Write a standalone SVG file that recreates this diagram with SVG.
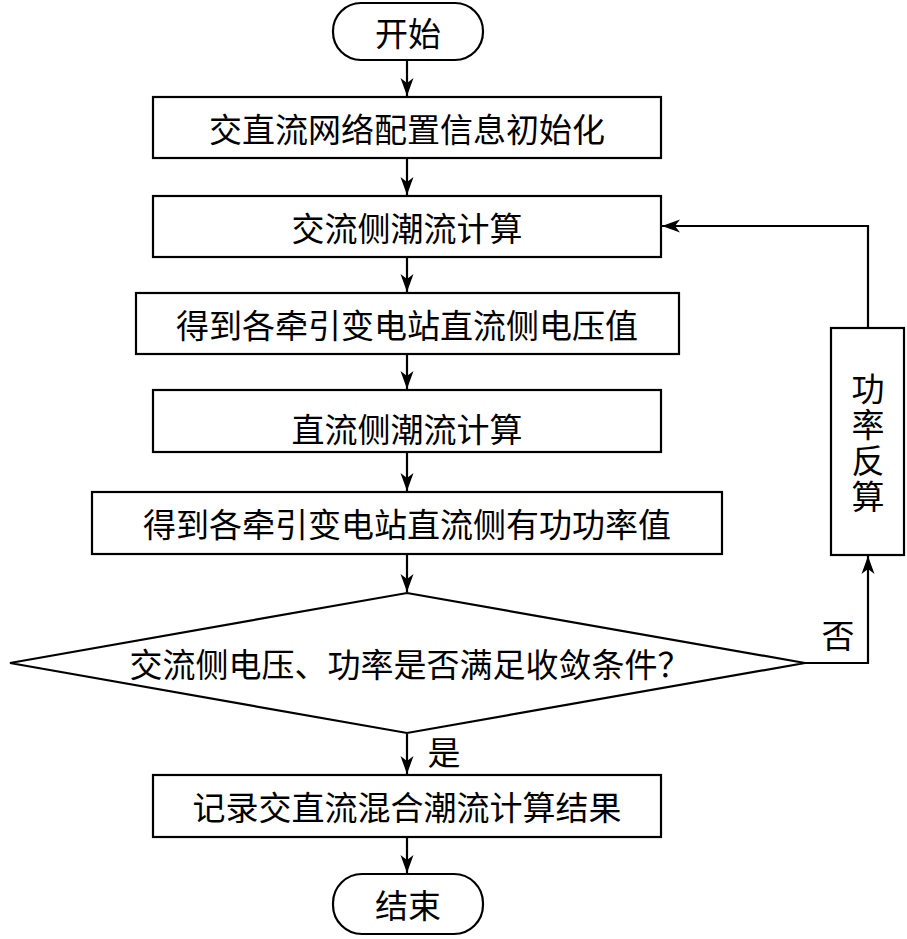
<svg xmlns="http://www.w3.org/2000/svg" width="907" height="939" viewBox="0 0 907 939">
<defs>
<marker id="ah" markerWidth="18" markerHeight="14" refX="18" refY="7" orient="auto" markerUnits="userSpaceOnUse">
<path d="M0,0.5 L18,7 L0,13.5 L5,7 z" fill="#000"/>
</marker>
<style>
.s{fill:#fff;stroke:#000;stroke-width:2.2}
.t{font-family:"Noto Sans CJK SC","Noto Sans CJK JP",sans-serif;font-size:33px;fill:#000;text-anchor:middle;dominant-baseline:central}
.v{writing-mode:vertical-rl;letter-spacing:3px}
.c{fill:none;stroke:#000;stroke-width:2.2;marker-end:url(#ah)}
</style>
</defs>
<rect width="907" height="939" fill="#fff"/>
<g id="connectors">
<path class="c" d="M407,61 V96"/>
<path class="c" d="M407,159 V195"/>
<path class="c" d="M407,258 V292"/>
<path class="c" d="M407,355 V389"/>
<path class="c" d="M407,453 V491"/>
<path class="c" d="M407,555 V592"/>
<path class="c" d="M407,734 V774"/>
<path class="c" d="M407,838 V873"/>
<path class="c" d="M805,663 H868 V556"/>
<path class="c" d="M868,328 V226 H662"/>
<text class="t" x="838" y="634">否</text>
<text class="t" x="444" y="751">是</text>
</g>
<g id="start"><rect class="s" x="333" y="3" width="150" height="57" rx="28"/><text class="t" x="408" y="32">开始</text></g>
<g id="n1"><rect class="s" x="153" y="97" width="508" height="61"/><text class="t" x="407" y="128">交直流网络配置信息初始化</text></g>
<g id="n2"><rect class="s" x="153" y="196" width="508" height="61"/><text class="t" x="407" y="227">交流侧潮流计算</text></g>
<g id="n3"><rect class="s" x="136" y="293" width="543" height="61"/><text class="t" x="407" y="324">得到各牵引变电站直流侧电压值</text></g>
<g id="n4"><rect class="s" x="153" y="390" width="508" height="62"/><text class="t" x="407" y="428">直流侧潮流计算</text></g>
<g id="n5"><rect class="s" x="92" y="492" width="630" height="62"/><text class="t" x="407" y="523">得到各牵引变电站直流侧有功功率值</text></g>
<g id="d1"><polygon class="s" points="407,593 805,663 407,733 10,663"/><text class="t" x="410" y="663">交流侧电压、功率是否满足收敛条件？</text></g>
<g id="fb"><rect class="s" x="831" y="328" width="73" height="227"/><text class="t v" x="868" y="444">功率反算</text></g>
<g id="n6"><rect class="s" x="153" y="775" width="508" height="62"/><text class="t" x="407" y="806">记录交直流混合潮流计算结果</text></g>
<g id="end"><rect class="s" x="333" y="874" width="150" height="60" rx="29"/><text class="t" x="408" y="904">结束</text></g>
</svg>
